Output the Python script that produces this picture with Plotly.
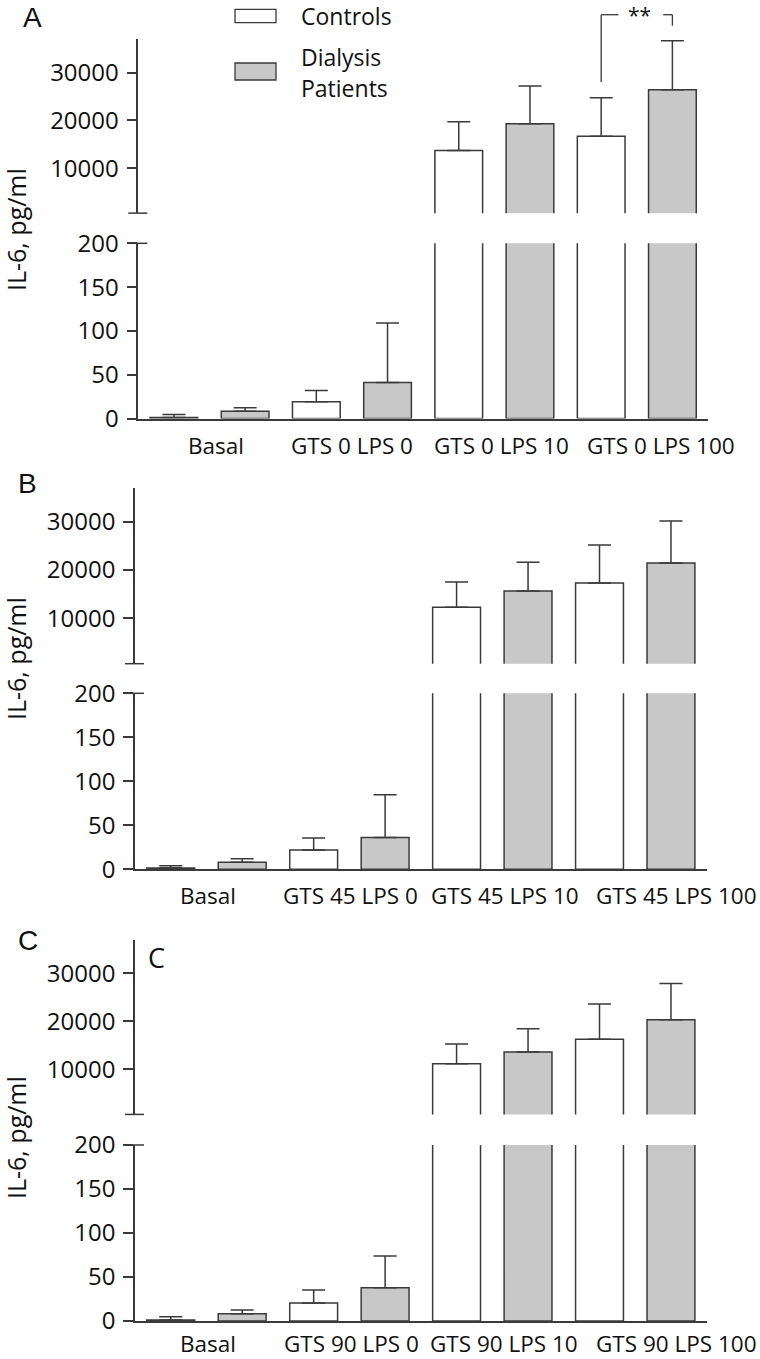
import plotly.graph_objects as go

W, H = 760, 1359

# ---------------- data ----------------
groups_A = ["Basal", "GTS 0 LPS 0", "GTS 0 LPS 10", "GTS 0 LPS 100"]
groups_B = ["Basal", "GTS 45 LPS 0", "GTS 45 LPS 10", "GTS 45 LPS 100"]
groups_C = ["Basal", "GTS 90 LPS 0", "GTS 90 LPS 10", "GTS 90 LPS 100"]

controls_A = [1.0, 19, 13700, 16700]
controls_A_err = [3.5, 13, 6000, 8050]
dialysis_A = [8.3, 41, 19300, 26400]
dialysis_A_err = [3.9, 68, 7900, 10270]

controls_B = [1.5, 22, 12300, 17300]
controls_B_err = [2.5, 13.6, 5200, 7870]
dialysis_B = [8.0, 36, 15650, 21450]
dialysis_B_err = [4.0, 48.8, 5940, 8700]

controls_C = [1.1, 20.5, 11170, 16250]
controls_C_err = [3.8, 14.7, 4100, 7350]
dialysis_C = [8.3, 37.9, 13600, 20330]
dialysis_C_err = [4.2, 36, 4860, 7570]

top_ticks = [10000, 20000, 30000]
bottom_ticks = [0, 50, 100, 150, 200]
top_range = [600, 37000]
bottom_range = [0, 200]

# ---------------- layout geometry (pixels) ----------------
# top: (pixel of value 0, pixels per 10000)
panels = [
    dict(letter="A", groups=groups_A, c=controls_A, ce=controls_A_err, d=dialysis_A, de=dialysis_A_err,
         xpx=(138.3, 708), top0=(216.0, 47.8), bot=(243.3, 418.5), lab_y=445,
         lab_dx=[6, 0, 7, 24], title_y=230, letter_xy=(32, 17)),
    dict(letter="B", groups=groups_B, c=controls_B, ce=controls_B_err, d=dialysis_B, de=dialysis_B_err,
         xpx=(135, 706.7), top0=(666.6, 48.3), bot=(693.3, 869.3), lab_y=895,
         lab_dx=[1.5, 1.5, 13, 41], title_y=659, letter_xy=(28, 483)),
    dict(letter="C", groups=groups_C, c=controls_C, ce=controls_C_err, d=dialysis_C, de=dialysis_C_err,
         xpx=(135, 706.7), top0=(1117.3, 48.0), bot=(1145, 1321), lab_y=1343,
         lab_dx=[2, 2, 12, 41], title_y=1138, letter_xy=(28, 941)),
]
for p in panels:
    z, s = p["top0"]
    p["top"] = (z - top_range[1] * s / 10000, z - top_range[0] * s / 10000)

def px_x(p):
    return p / W

def px_y(p):
    return 1 - p / H

AX = "#3a3a3a"
FONT = "Open Sans"
GREY = "#c8c8c8"

fig = go.Figure()
layout = dict(
    width=W, height=H, margin=dict(l=0, r=0, t=0, b=0, pad=0, autoexpand=False),
    paper_bgcolor="white", plot_bgcolor="white",
    barmode="group", bargap=0, bargroupgap=0.33,
    showlegend=False, font=dict(family=FONT, color="#111"),
)
shapes = []
annotations = []

ax_i = 0
for p in panels:
    for part in ("top", "bot"):
        ax_i += 1
        xn = "x" if ax_i == 1 else f"x{ax_i}"
        yn = "y" if ax_i == 1 else f"y{ax_i}"
        xk = "xaxis" if ax_i == 1 else f"xaxis{ax_i}"
        yk = "yaxis" if ax_i == 1 else f"yaxis{ax_i}"
        y0px, y1px = p[part]
        is_top = part == "top"
        for vals, errs, fill, name in ((p["c"], p["ce"], "white", "Controls"),
                                      (p["d"], p["de"], GREY, "Dialysis Patients")):
            fig.add_trace(go.Bar(
                x=p["groups"], y=vals, name=name, xaxis=xn, yaxis=yn,
                marker=dict(color=fill, line=dict(color=AX, width=1.5)),
                error_y=dict(type="data", symmetric=False, array=errs,
                             arrayminus=[0] * len(errs), width=11.5,
                             thickness=1.5, color=AX),
                offsetgroup=name, hoverinfo="skip",
            ))
        layout[xk] = dict(
            domain=[px_x(p["xpx"][0]), px_x(p["xpx"][1])],
            anchor=yn, type="category", range=[-0.5, 3.5], automargin=False,
            showticklabels=False, ticks="", showgrid=False, zeroline=False,
            showline=not is_top, linecolor=AX, linewidth=1.5,
        )
        layout[yk] = dict(
            domain=[px_y(y1px), px_y(y0px)], anchor=xn, automargin=False,
            range=top_range if is_top else bottom_range,
            tickvals=top_ticks if is_top else bottom_ticks,
            tickformat="d",
            ticks="outside", ticklen=10, tickwidth=1.5, tickcolor=AX,
            showline=True, linecolor=AX, linewidth=1.5,
            showgrid=False, zeroline=False,
            tickfont=dict(family=FONT, size=24, color="#111"),
            ticklabelstandoff=3,
        )
        # axis-break markers
        wpx = p["xpx"][1] - p["xpx"][0]
        yb = 0 if is_top else 1
        shapes.append(dict(type="line", xref=f"{xn} domain", yref=f"{yn} domain",
                           x0=-10 / wpx, x1=9 / wpx, y0=yb, y1=yb,
                           line=dict(color=AX, width=1.5)))
        if not is_top:
            for i, g in enumerate(p["groups"]):
                annotations.append(dict(
                    x=g, y=px_y(p["lab_y"]), xref=xn, yref="paper", xshift=p["lab_dx"][i],
                    text=g, showarrow=False, xanchor="center", yanchor="middle",
                    font=dict(family=FONT, size=22.5, color="#111")))
        if is_top and p["letter"] == "A":
            hpx = y1px - y0px
            def dy(py, y1px=y1px, hpx=hpx):
                return (y1px - py) / hpx
            bl = dict(color=AX, width=1.3)
            shapes += [
                dict(type="line", xref=xn, yref=f"{yn} domain", x0=2.75, x1=2.75, y0=dy(82), y1=dy(14.7), line=bl),
                dict(type="line", xref=xn, yref=f"{yn} domain", x0=2.75, x1=2.871, y0=dy(14.7), y1=dy(14.7), line=bl),
                dict(type="line", xref=xn, yref=f"{yn} domain", x0=3.185, x1=3.25, y0=dy(14.7), y1=dy(14.7), line=bl),
                dict(type="line", xref=xn, yref=f"{yn} domain", x0=3.25, x1=3.25, y0=dy(25.7), y1=dy(14.7), line=bl),
            ]
            annotations.append(dict(x=3.02, y=dy(15), xref=xn, yref=f"{yn} domain", text="**",
                                    showarrow=False, xanchor="center", yanchor="middle",
                                    font=dict(family=FONT, size=21, color="#111")))

    # y-axis title
    annotations.append(dict(x=px_x(16), y=px_y(p["title_y"]), xref="paper", yref="paper",
                            text="IL-6, pg/ml", textangle=-90, showarrow=False,
                            xanchor="center", yanchor="middle",
                            font=dict(family=FONT, size=25, color="#111")))
    # panel letter
    lx, ly = p["letter_xy"]
    annotations.append(dict(x=px_x(lx), y=px_y(ly), xref="paper", yref="paper",
                            text=p["letter"], showarrow=False, xanchor="center", yanchor="middle",
                            font=dict(family="Liberation Sans", size=28, color="#111")))

# extra "C" inside panel C
annotations.append(dict(x=px_x(156), y=px_y(957), xref="paper", yref="paper", text="C",
                        showarrow=False, xanchor="center", yanchor="middle",
                        font=dict(family=FONT, size=27, color="#111")))

# legend (custom)
shapes.append(dict(type="rect", xref="paper", yref="paper", x0=px_x(235), x1=px_x(276),
                   y0=px_y(22.7), y1=px_y(9.3), fillcolor="white", line=dict(color=AX, width=1.3)))
shapes.append(dict(type="rect", xref="paper", yref="paper", x0=px_x(235), x1=px_x(276),
                   y0=px_y(80), y1=px_y(63), fillcolor=GREY, line=dict(color=AX, width=1.3)))
for txt, yy in (("Controls", 16), ("Dialysis", 57), ("Patients", 88)):
    annotations.append(dict(x=px_x(299), y=px_y(yy), xref="paper", yref="paper", text=txt,
                            showarrow=False, xanchor="left", yanchor="middle",
                            font=dict(family=FONT, size=23, color="#111")))

layout["shapes"] = shapes
layout["annotations"] = annotations
fig.update_layout(**layout)

page_fix = (
    "document.documentElement.style.margin='0';"
    "document.body.style.margin='0';"
    "document.body.style.overflow='hidden';"
    "var gd=document.getElementById('{plot_id}');"
    "gd.style.position='absolute';gd.style.left='0px';gd.style.top='0px';"
)
fig.write_html("out.html", config={"displayModeBar": False}, post_script=page_fix)
